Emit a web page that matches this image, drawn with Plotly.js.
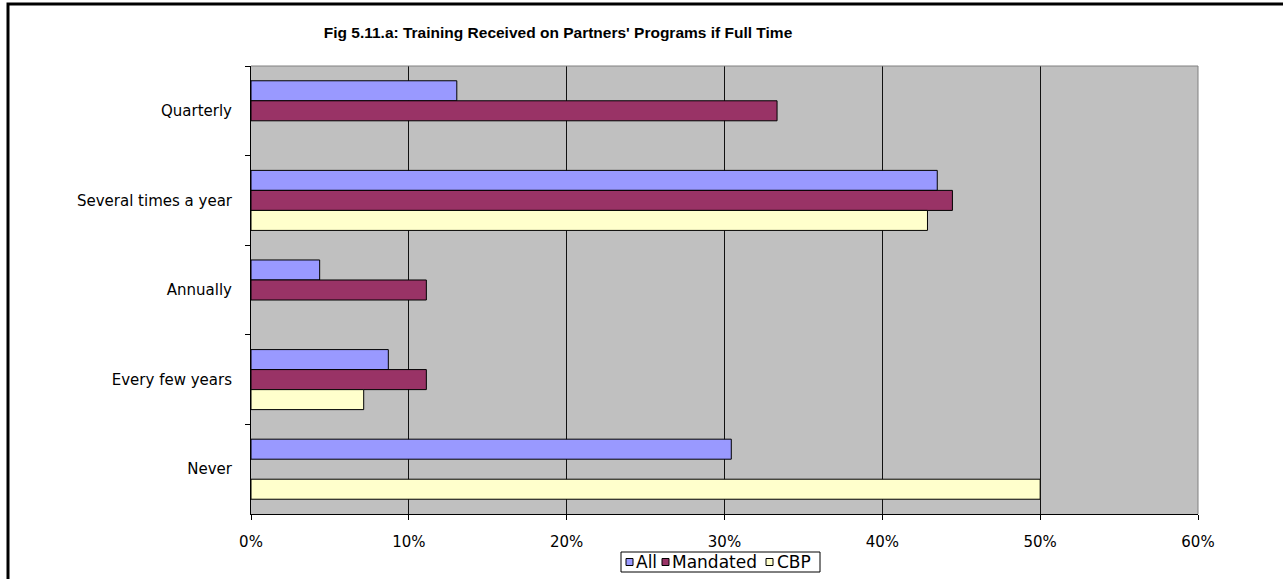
<!DOCTYPE html>
<html>
<head>
<meta charset="utf-8">
<script src="https://cdn.plot.ly/plotly-3.0.1.min.js"></script>
<style>
html,body{margin:0;padding:0;background:#fff;}
#chart{width:1283px;height:579px;}
</style>
</head>
<body>
<div id="chart"></div>
<script>
// Data (fractions); null = no bar drawn
const categories = ["Quarterly", "Several times a year", "Annually", "Every few years", "Never"];
const allValues = [0.1304, 0.4348, 0.0435, 0.0870, 0.3043];
const mandatedValues = [0.3333, 0.4444, 0.1111, 0.1111, null];
const cbpValues = [null, 0.4286, null, 0.0714, 0.5];
const seriesNames = ["All", "Mandated", "CBP"];
const seriesColors = ["#9999ff", "#993366", "#ffffcc"];
const xTickValues = [0, 0.1, 0.2, 0.3, 0.4, 0.5, 0.6];
const xTickLabels = ["0%", "10%", "20%", "30%", "40%", "50%", "60%"];
const titleText = "Fig 5.11.a: Training Received on Partners' Programs if Full Time";

const seriesValues = [allValues, mandatedValues, cbpValues];
const traces = seriesValues.map((vals, i) => ({
  type: "bar",
  orientation: "h",
  name: seriesNames[i],
  y: categories,
  x: vals,
  marker: {color: seriesColors[i], line: {color: "#000", width: 1}},
  hoverinfo: "skip",
  showlegend: false
}));

const FONT = "DejaVu Sans, Arial, sans-serif";
const ML = 251, MR = 85, MT = 66, MB = 65, W = 1283, H = 579;
const PW = W - ML - MR, PH = H - MT - MB;
const px = p => (p - ML) / PW;
const py = p => (H - MB - p) / PH;

// Custom legend (pixel layout)
const legendBox = {x0: 621, x1: 820, y0: 552, y1: 572};
const legendSwatchX = [626, 662, 766];
const legendTextX = [634, 670, 775];
const shapes = [
  {type: "line", xref: "paper", yref: "paper", x0: 0, x1: 1, y0: 1, y1: 1, line: {color: "#808080", width: 1}},
  {type: "line", xref: "paper", yref: "paper", x0: 1, x1: 1, y0: 0, y1: 1, line: {color: "#808080", width: 1}},
  {type: "rect", xref: "paper", yref: "paper",
   x0: px(8), x1: px(1300), y0: py(600), y1: py(4),
   line: {color: "#000", width: 3}, fillcolor: "rgba(0,0,0,0)"},
  {type: "rect", xref: "paper", yref: "paper",
   x0: px(legendBox.x0), x1: px(legendBox.x1), y0: py(legendBox.y1), y1: py(legendBox.y0),
   line: {color: "#000", width: 1}, fillcolor: "#fff"}
];
const annotations = [];
seriesNames.forEach((n, i) => {
  shapes.push({type: "rect", xref: "paper", yref: "paper",
    x0: px(legendSwatchX[i]), x1: px(legendSwatchX[i] + 7),
    y0: py(565.5), y1: py(558.5),
    line: {color: "#000", width: 1}, fillcolor: seriesColors[i]});
  annotations.push({xref: "paper", yref: "paper", x: px(legendTextX[i]), y: py(562),
    xanchor: "left", yanchor: "middle", showarrow: false, text: n,
    font: {family: FONT, size: 17, color: "#000"}});
});

const layout = {
  width: W,
  height: H,
  margin: {l: ML, r: MR, t: MT, b: MB, pad: 0},
  paper_bgcolor: "#ffffff",
  plot_bgcolor: "#c0c0c0",
  barmode: "group",
  bargap: 0.33,
  bargroupgap: 0,
  showlegend: false,
  font: {family: FONT, size: 15, color: "#000"},
  title: {
    text: "<b>" + titleText + "</b>",
    font: {family: "Arial, Liberation Sans, sans-serif", size: 15.5, color: "#000"},
    xref: "container", x: 558 / W, xanchor: "center",
    yref: "container", y: 1 - 33 / H, yanchor: "middle"
  },
  xaxis: {
    range: [0, 0.6],
    tickvals: xTickValues,
    ticktext: xTickLabels,
    showgrid: true,
    gridcolor: "#111",
    gridwidth: 1,
    zeroline: false,
    showline: true,
    linecolor: "#000",
    linewidth: 1,
    ticks: "outside",
    ticklen: 5,
    tickcolor: "#000",
    ticklabelstandoff: 9,
    tickfont: {family: FONT, size: 15, color: "#000"},
    automargin: false,
    fixedrange: true
  },
  yaxis: {
    type: "category",
    autorange: "reversed",
    showgrid: false,
    zeroline: false,
    showline: true,
    linecolor: "#000",
    linewidth: 1,
    ticks: "outside",
    tickson: "boundaries",
    ticklen: 5,
    tickcolor: "#000",
    ticklabelstandoff: 15,
    tickfont: {family: FONT, size: 15, color: "#000"},
    automargin: false,
    fixedrange: true
  },
  shapes: shapes,
  annotations: annotations
};

Plotly.newPlot("chart", traces, layout, {displayModeBar: false, staticPlot: true});
</script>
</body>
</html>
